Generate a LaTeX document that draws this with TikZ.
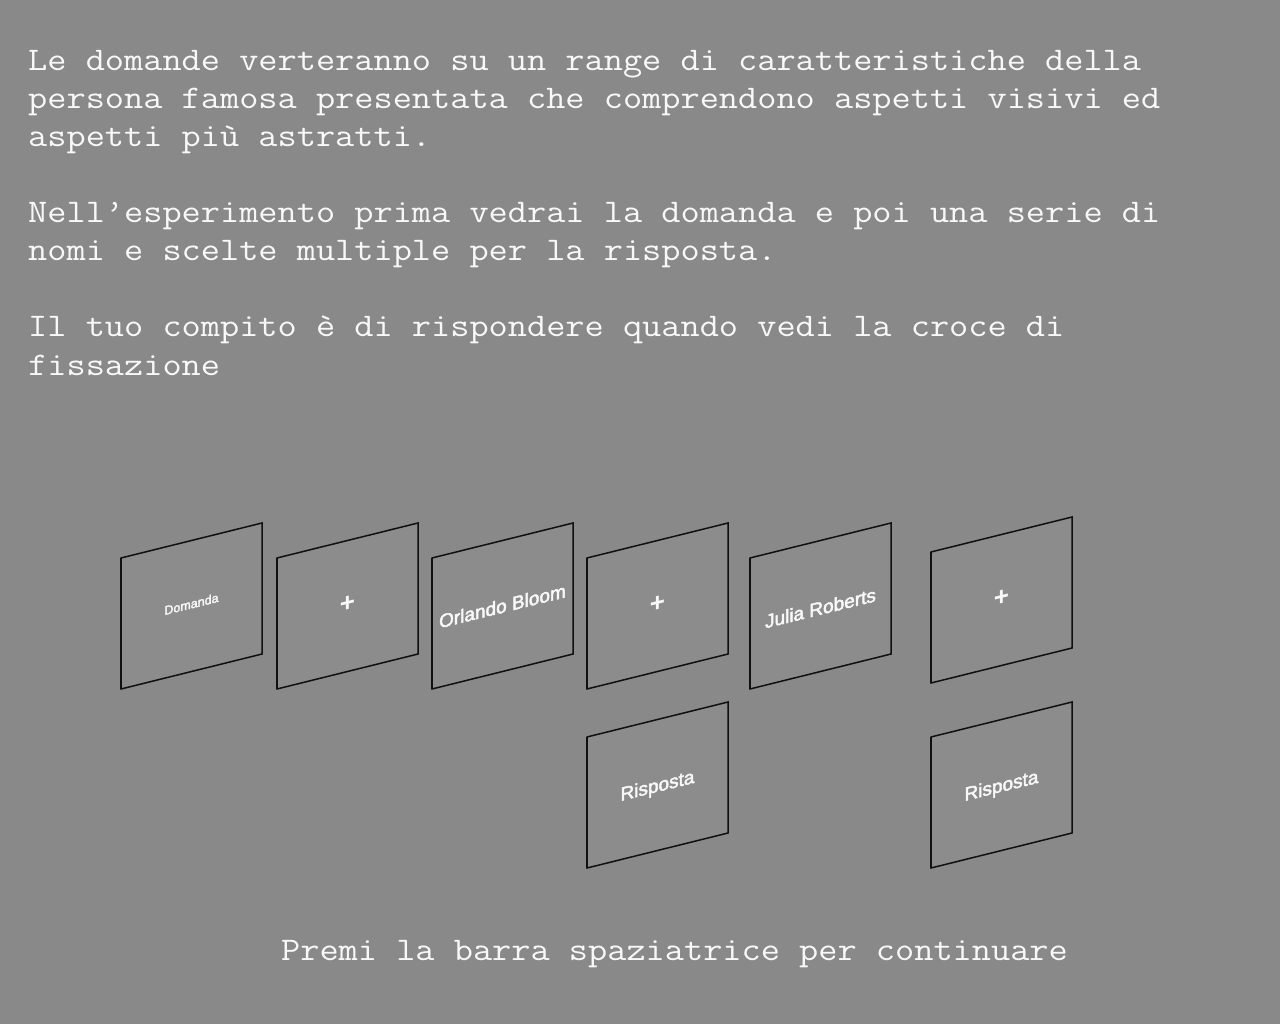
\documentclass[tikz,border=0pt]{standalone}
\usepackage{graphicx}
\usepackage{fontspec}
\setmainfont{Liberation Sans}
\newfontfamily\panelfont[FakeBold=2.5]{Liberation Sans}
\newfontfamily\plusfont{Liberation Sans}
\definecolor{bggray}{HTML}{898989}
\definecolor{panelfill}{HTML}{8C8C8C}
\definecolor{edgecol}{HTML}{101010}
\definecolor{txtcol}{HTML}{F8F8F8}
\newcommand{\monoline}[1]{\scalebox{1.129}[1]{\ttfamily\fontsize{33}{38}\selectfont #1}}
\tikzset{
  para/.style={text=txtcol, anchor=base west, inner sep=0pt},
  paneltext/.style={font=\panelfont\fontsize{19}{22}\selectfont, text=txtcol, inner sep=0pt, transform shape, yslant=0.246},
  plustext/.style={font=\plusfont\bfseries\fontsize{26}{28}\selectfont, text=txtcol, inner sep=0pt, transform shape, yslant=0.246},
  smalltext/.style={font=\panelfont\fontsize{12.5}{14}\selectfont, text=txtcol, inner sep=0pt, transform shape, yslant=0.246},
  panelbody/.style={fill=panelfill, draw=edgecol, line width=1.5pt, line join=miter},
  leftedge/.style={draw=edgecol, line width=2.2pt}
}
\newcommand{\slantpanel}[3]{%
  % #1 name, #2 left x, #3 top-left y
  \coordinate (#1-tl) at (#2,#3);
  \coordinate (#1-tr) at ({#2+141},{#3-35});
  \coordinate (#1-br) at ({#2+141},{#3+96});
  \coordinate (#1-bl) at (#2,{#3+131});
  \coordinate (#1-c) at ({#2+70.5},{#3+48});
  \path[panelbody] (#1-tl) -- (#1-tr) -- (#1-br) -- (#1-bl) -- cycle;
  \draw[leftedge] (#1-tl) -- (#1-bl);
}
\begin{document}
\begin{tikzpicture}[x=1pt,y=-1pt]
\fill[bggray] (0,0) rectangle (1280,1024);
\useasboundingbox (0,0) rectangle (1280,1024);

\node[para] (l1) at (28,71) {\monoline{Le domande verteranno su un range di caratteristiche della}};
\node[para] (l2) at (28,109) {\monoline{persona famosa presentata che comprendono aspetti visivi ed}};
\node[para] (l3) at (28,147) {\monoline{aspetti più astratti.}};
\node[para] (l4) at (28,223) {\monoline{Nell’esperimento prima vedrai la domanda e poi una serie di}};
\node[para] (l5) at (28,261) {\monoline{nomi e scelte multiple per la risposta.}};
\node[para] (l6) at (28,337) {\monoline{Il tuo compito è di rispondere quando vedi la croce di}};
\node[para] (l7) at (28,375) {\monoline{fissazione}};
\node[para, anchor=base] (cont) at (674.5,960) {\monoline{Premi la barra spaziatrice per continuare}};

\slantpanel{p1}{121}{558}
\slantpanel{p2}{277}{558}
\slantpanel{p3}{432}{558}
\slantpanel{p4}{587}{558}
\slantpanel{p5}{750}{558}
\slantpanel{p6}{931}{552}
\slantpanel{r1}{587}{737}
\slantpanel{r2}{931}{737}

\node[smalltext] (t1) at ([yshift=2pt]p1-c) {Domanda};
\node[plustext] (t2) at ([yshift=2pt]p2-c) {+};
\node[paneltext] (t3) at (p3-c) {Orlando Bloom};
\node[plustext] (t4) at ([yshift=2pt]p4-c) {+};
\node[paneltext] (t5) at ([yshift=-2pt]p5-c) {Julia Roberts};
\node[plustext] (t6) at ([yshift=2pt]p6-c) {+};
\node[paneltext] (t7) at ([yshift=-2pt]r1-c) {Risposta};
\node[paneltext] (t8) at ([yshift=-2pt]r2-c) {Risposta};
\end{tikzpicture}
\end{document}
